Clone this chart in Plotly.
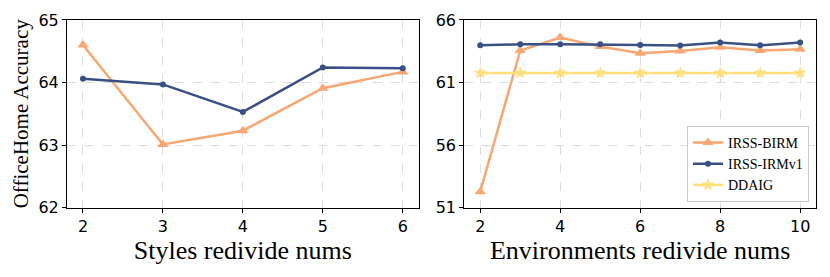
import plotly.graph_objects as go

styles_x = [2, 3, 4, 5, 6]
styles_birm = [64.60, 63.01, 63.23, 63.91, 64.17]
styles_irmv1 = [64.06, 63.97, 63.53, 64.24, 64.23]

env_x = [2, 3, 4, 5, 6, 7, 8, 9, 10]
env_birm = [52.27, 63.55, 64.59, 63.87, 63.34, 63.52, 63.81, 63.55, 63.66]
env_irmv1 = [63.97, 64.05, 64.05, 64.05, 64.00, 63.95, 64.19, 63.97, 64.19]
env_ddaig = [61.76, 61.76, 61.76, 61.76, 61.76, 61.76, 61.76, 61.76, 61.76]

left_yticks = [62, 63, 64, 65]
right_yticks = [51, 56, 61, 66]
right_xticks = [2, 4, 6, 8, 10]

ORANGE = "#F7A774"
BLUE = "#3A5085"
YELLOW = "#FFDF7A"

fig = go.Figure()

def add(xs, ys, name, color, symbol, size, xa, ya, show):
    fig.add_trace(go.Scatter(
        x=xs, y=ys, mode="lines+markers", name=name,
        line=dict(color=color, width=2.5),
        marker=dict(symbol=symbol, size=size, color=color),
        xaxis=xa, yaxis=ya, showlegend=show, cliponaxis=False))

add(styles_x, styles_birm, "IRSS-BIRM", ORANGE, "triangle-up", 10, "x", "y", False)
add(styles_x, styles_irmv1, "IRSS-IRMv1", BLUE, "circle", 6, "x", "y", False)
add(env_x, env_birm, "IRSS-BIRM", ORANGE, "triangle-up", 10, "x2", "y2", True)
add(env_x, env_irmv1, "IRSS-IRMv1", BLUE, "circle", 6, "x2", "y2", True)
add(env_x, env_ddaig, "DDAIG", YELLOW, "star", 10, "x2", "y2", True)

tickfont = dict(family="DejaVu Sans", size=16, color="black")
titlefont = dict(family="Liberation Serif", size=26, color="black")
common_axis = dict(showline=True, linecolor="black", linewidth=1, mirror=True,
                   ticks="outside", ticklen=4, tickcolor="black",
                   showgrid=True, gridcolor="#DDDDDD", griddash="dash", gridwidth=1,
                   zeroline=False, tickfont=tickfont, automargin=False)

fig.update_layout(
    width=830, height=277,
    margin=dict(l=0, r=0, t=0, b=0, autoexpand=False),
    plot_bgcolor="white", paper_bgcolor="white",
    xaxis=dict(domain=[0.0807, 0.5045], range=[1.8, 6.2], tickvals=styles_x,
               title=dict(text="Styles redivide nums", font=titlefont, standoff=2),
               anchor="y", **common_axis),
    yaxis=dict(domain=[0.2502, 0.928], range=[62, 65], tickvals=left_yticks,
               title=dict(text="OfficeHome Accuracy", font=dict(family="Liberation Serif", size=21, color="black"), standoff=4),
               anchor="x", **common_axis),
    xaxis2=dict(domain=[0.5593, 0.9833], range=[1.6, 10.4], tickvals=right_xticks,
                title=dict(text="Environments redivide nums", font=titlefont, standoff=2),
                anchor="y2", **common_axis),
    yaxis2=dict(domain=[0.2502, 0.928], range=[51, 66], tickvals=right_yticks,
                anchor="x2", **common_axis),
    legend=dict(x=0.9747, y=0.271, xanchor="right", yanchor="bottom",
                bgcolor="white", bordercolor="#CCCCCC", borderwidth=1,
                font=dict(family="Liberation Serif", size=14, color="black"),
                tracegroupgap=0, itemwidth=30),
)

fig.write_html("out.html", config={"displayModeBar": False},
               post_script="document.body.style.margin='0';document.body.style.overflow='hidden';")
